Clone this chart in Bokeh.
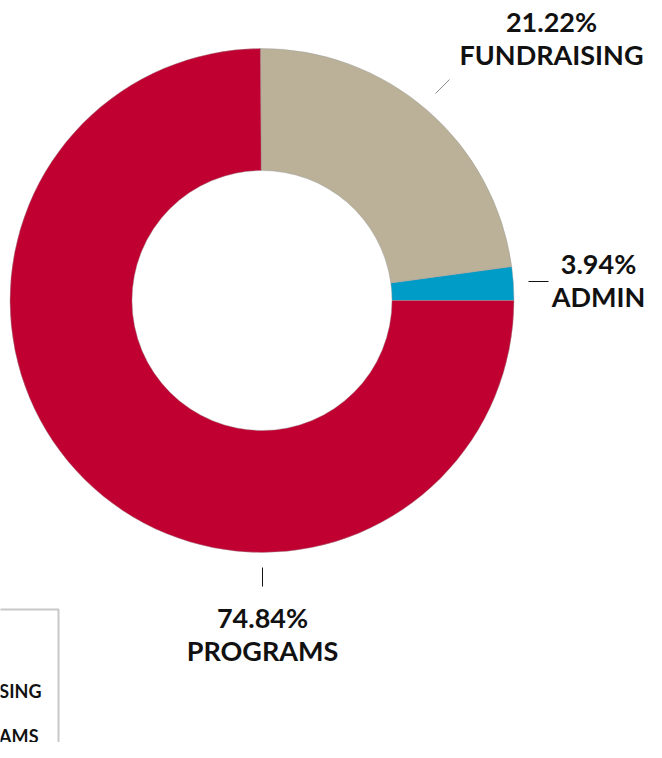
import numpy as np
from bokeh.plotting import figure
from bokeh.models import Range1d, ColumnDataSource
from bokeh.core.properties import value
from bokeh.embed import file_html
from bokeh.resources import INLINE

# ---- data ----
categories = ["ADMIN", "FUNDRAISING", "PROGRAMS"]
shares = [2.15, 22.95, 74.90]            # slice sizes as drawn in the picture
pct_labels = ["3.94%", "21.22%", "74.84%"]
colors = ["#009CC8", "#BAB198", "#C00030"]
legend_order = ["FUNDRAISING", "PROGRAMS"]  # visible part of the clipped legend

W, H = 646, 742
FONT = "Lato"


def X(px):
    return px


def Y(py):
    return H - py


p = figure(width=W, height=H, x_range=Range1d(0, W), y_range=Range1d(0, H),
           output_backend="svg", toolbar_location=None, min_border=0,
           x_axis_location=None, y_axis_location=None)
p.grid.visible = False
p.outline_line_color = None
p.background_fill_color = "white"

# ---- donut ----
frac = np.array(shares) / sum(shares)
cum = np.concatenate([[0.0], np.cumsum(frac)]) * 2 * np.pi
cx, cy = X(261.5), Y(300)
src = ColumnDataSource(dict(
    cat=categories, start=cum[:-1], end=cum[1:], color=colors,
    x=[cx] * len(categories), y=[cy] * len(categories)))
p.annular_wedge(x="x", y="y", inner_radius=130, outer_radius=252,
                start_angle="start", end_angle="end", fill_color="color",
                line_color="#9a9a9a", line_width=0.6, line_alpha=0.7, source=src)

# ---- slice labels ----
label_pos = {  # (x, y of first line, y of second line) in page pixels
    "ADMIN": (598, 262.5, 295.5),
    "FUNDRAISING": (551, 20.5, 54),
    "PROGRAMS": (262, 616.5, 650),
}
lx, ly, lt = [], [], []
for cat, pct in zip(categories, pct_labels):
    x0, y1, y2 = label_pos[cat]
    lx += [X(x0), X(x0)]
    ly += [Y(y1), Y(y2)]
    lt += [pct, cat]
p.text(x=lx, y=ly, text=lt, text_align="center", text_baseline="middle",
       text_font=value(FONT), text_font_style="bold", text_font_size="27px",
       text_color="#111111")

# leader lines
p.segment(x0=[X(435)], y0=[Y(93)], x1=[X(449)], y1=[Y(79)],
          line_color="#8a8a8a", line_width=1)
p.segment(x0=[X(528), X(262)], y0=[Y(281), Y(567)],
          x1=[X(548), X(262)], y1=[Y(281), Y(586)],
          line_color="#111111", line_width=1)

# ---- clipped legend ----
p.quad(left=[-120], right=[X(58)], top=[Y(609)], bottom=[-60],
       fill_color=None, line_color="#c8c8c8", line_width=2)
p.text(x=[X(41), X(38)], y=[Y(690), Y(735)], text=legend_order,
       text_align="right", text_baseline="middle",
       text_font=value(FONT), text_font_style="bold", text_font_size="18px",
       text_color="#111111")

open("out.html", "w").write(file_html(p, INLINE))
